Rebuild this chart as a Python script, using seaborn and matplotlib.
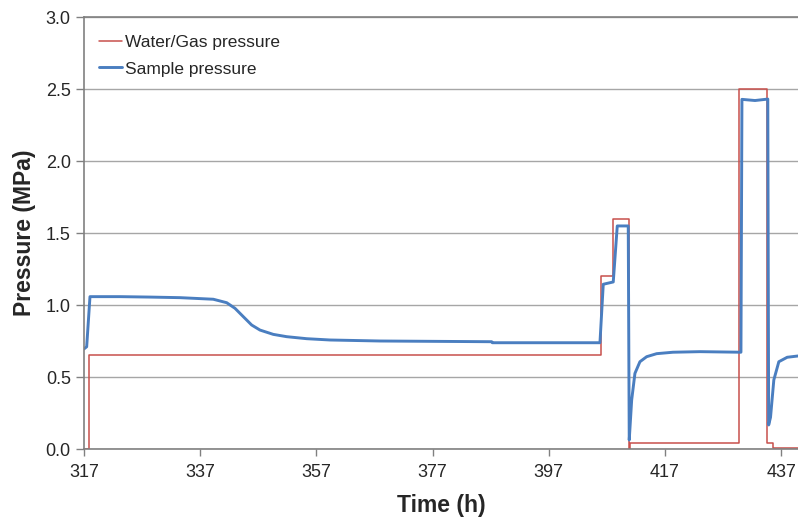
import numpy as np
import pandas as pd
import matplotlib
matplotlib.use("Agg")
import matplotlib.pyplot as plt
import seaborn as sns

# DATA
# water/gas pressure: step levels, each level holds until the next time
gas_time = [317.0, 317.86, 405.98, 408.10, 410.74, 410.97, 429.74, 434.60, 435.64, 439.9]
gas_pressure = [0.0, 0.65, 1.20, 1.60, 0.0, 0.04, 2.50, 0.04, 0.01, 0.01]

# sample pressure
sample_time = [317.0, 317.46, 318.03, 323.2, 328.36, 333.52, 339.25, 341.56, 342.99,
               344.42, 345.86, 347.29, 349.58, 351.89, 355.33, 359.34, 367.95, 387.17,
               387.3, 405.81, 406.38, 408.10, 408.79, 410.68, 410.85, 411.27, 411.83,
               412.69, 413.85, 415.57, 418.38, 423.03, 430.08, 430.25, 432.5, 434.70,
               434.85, 435.17, 435.74, 436.6, 438.04, 439.9]
sample_pressure = [0.695, 0.71, 1.058, 1.058, 1.055, 1.051, 1.04, 1.016, 0.977,
                   0.919, 0.861, 0.826, 0.796, 0.78, 0.766, 0.757, 0.75, 0.745,
                   0.738, 0.738, 1.144, 1.16, 1.549, 1.549, 0.0625, 0.34, 0.525,
                   0.606, 0.641, 0.662, 0.672, 0.676, 0.672, 2.428, 2.42, 2.43,
                   0.167, 0.22, 0.48, 0.606, 0.637, 0.646]

x_ticks = [317, 337, 357, 377, 397, 417, 437]
y_ticks = [0.0, 0.5, 1.0, 1.5, 2.0, 2.5, 3.0]

gas_df = pd.DataFrame({"time": gas_time, "pressure": gas_pressure})
sample_df = pd.DataFrame({"time": sample_time, "pressure": sample_pressure})

sns.set_style("white")
plt.rcParams["font.family"] = ["Liberation Sans", "DejaVu Sans"]

fig = plt.figure(figsize=(7.98, 5.2), dpi=100)
ax = fig.add_axes([84 / 798, 71 / 520, 714 / 798, 432 / 520])

sns.lineplot(data=gas_df, x="time", y="pressure", ax=ax, color="#C8504C",
             linewidth=1.1, drawstyle="steps-post", estimator=None, sort=False,
             label="Water/Gas pressure")
sns.lineplot(data=sample_df, x="time", y="pressure", ax=ax, color="#4A7EC0",
             linewidth=2.1, estimator=None, sort=False, label="Sample pressure")

ax.set_xlim(317, 439.9)
ax.set_ylim(0, 3.0)
ax.set_xticks(x_ticks)
ax.set_yticks(y_ticks)
ax.set_yticklabels([f"{v:.1f}" for v in y_ticks])
ax.yaxis.grid(True, color="#A6A6A6", linewidth=1.0)
ax.set_axisbelow(True)
ax.tick_params(axis="both", labelsize=13, color="#808080", direction="out",
               bottom=True, left=True, width=1)
ax.tick_params(axis="y", length=6, pad=3.5)
ax.tick_params(axis="x", length=5, pad=6)

for side in ["left", "bottom", "top"]:
    ax.spines[side].set_color("#808080")
    ax.spines[side].set_linewidth(1.2)
ax.spines["right"].set_visible(False)

ax.set_xlabel("Time (h)", fontsize=16.5, fontweight="bold", labelpad=9)
ax.set_ylabel("Pressure (MPa)", fontsize=16.5, fontweight="bold", labelpad=7)

ax.legend(loc="upper left", frameon=False, fontsize=12.5, handlelength=1.35,
          handletextpad=0.15, labelspacing=0.65, borderaxespad=0.45,
          bbox_to_anchor=(0.0, 0.9927))

fig.set_facecolor("white")
fig.savefig("out.png", dpi=100)
